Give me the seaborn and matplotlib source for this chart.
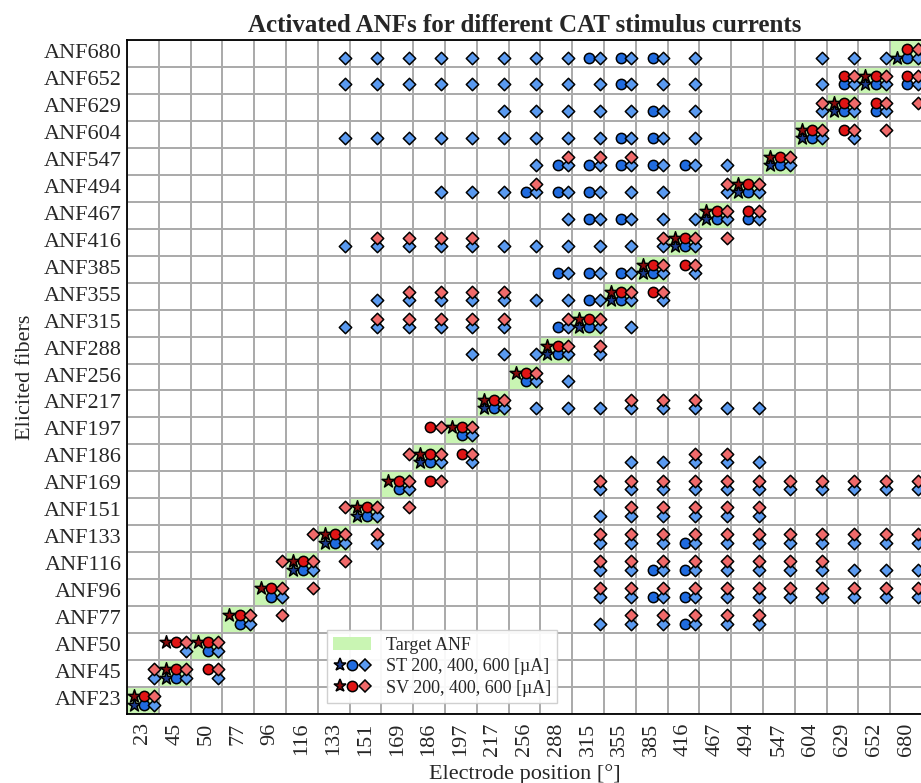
import numpy as np
import pandas as pd
import matplotlib
matplotlib.use("Agg")
import matplotlib.pyplot as plt
import seaborn as sns
from matplotlib.colors import ListedColormap
from matplotlib.lines import Line2D
from matplotlib.patches import Patch
from matplotlib.legend_handler import HandlerTuple

# ---------------- data ----------------
electrodes = [23, 45, 50, 77, 96, 116, 133, 151, 169, 186, 197, 217, 256,
              288, 315, 355, 385, 416, 467, 494, 547, 604, 629, 652, 680]
fibers = [680, 652, 629, 604, 547, 494, 467, 416, 385, 355, 315, 288, 256,
          217, 197, 186, 169, 151, 133, 116, 96, 77, 50, 45, 23]

# activated fibers: fiber -> electrode positions where the fiber fires
st_200 = {680: [680], 652: [652], 629: [629], 604: [604], 547: [547], 494: [494],
          467: [467], 416: [416], 385: [385], 355: [355], 315: [315], 288: [288],
          217: [217], 186: [186], 151: [151], 133: [133], 116: [116], 45: [45], 23: [23]}
st_400 = {680: [315, 355, 385, 680], 652: [355, 629, 652, 680], 629: [385, 629, 652],
          604: [355, 385, 604], 547: [288, 315, 355, 385, 416, 547],
          494: [256, 288, 315, 494], 467: [315, 355, 467, 494], 416: [416],
          385: [288, 315, 355, 385], 355: [315, 355], 315: [288, 315], 288: [288],
          256: [256], 217: [217], 197: [197], 186: [186], 169: [169], 151: [151],
          133: [133, 416], 116: [116, 385, 416], 96: [96, 385, 416], 77: [77, 416],
          50: [50], 45: [45], 23: [23]}
st_600 = {680: [133, 151, 169, 186, 197, 217, 256, 288, 315, 355, 385, 416, 604, 629, 652, 680],
          652: [133, 151, 169, 186, 197, 217, 256, 288, 315, 355, 385, 416, 604, 629, 652, 680],
          629: [217, 256, 288, 315, 355, 385, 416, 604, 629, 652],
          604: [133, 151, 169, 186, 197, 217, 256, 288, 315, 355, 385, 416, 604, 629],
          547: [256, 288, 315, 355, 385, 416, 467, 547],
          494: [186, 197, 217, 256, 288, 315, 355, 385, 467, 494],
          467: [288, 315, 355, 385, 416, 467, 494],
          416: [133, 151, 169, 186, 197, 217, 256, 288, 315, 355, 385, 416],
          385: [288, 315, 355, 385, 416],
          355: [151, 169, 186, 197, 217, 256, 288, 315, 355, 385],
          315: [133, 151, 169, 186, 197, 217, 288, 315, 355],
          288: [197, 217, 256, 288, 315],
          256: [256, 288],
          217: [217, 256, 288, 315, 355, 385, 416, 467, 494],
          197: [197],
          186: [186, 197, 355, 385, 416, 467, 494],
          169: [169, 315, 355, 385, 416, 467, 494, 547, 604, 629, 652, 680],
          151: [151, 315, 355, 385, 416, 467, 494],
          133: [133, 151, 315, 355, 385, 416, 467, 494, 547, 604, 629, 652, 680],
          116: [116, 315, 355, 385, 416, 467, 494, 547, 604, 629, 652, 680],
          96: [96, 315, 355, 385, 416, 467, 494, 547, 604, 629, 652, 680],
          77: [77, 315, 355, 385, 416, 467, 494],
          50: [45, 50], 45: [23, 45, 50], 23: [23]}
sv_200 = {652: [652], 629: [629], 604: [604], 547: [547], 494: [494], 467: [467],
          416: [416], 385: [385], 355: [355], 315: [315], 288: [288], 256: [256],
          217: [217], 197: [197], 186: [186], 169: [169], 151: [151], 133: [133],
          116: [116], 96: [96], 77: [77], 50: [45, 50], 45: [45], 23: [23]}
sv_400 = {680: [680], 652: [629, 652, 680], 629: [629, 652], 604: [604, 629],
          547: [547], 494: [494], 467: [467, 494], 416: [416], 385: [385, 416],
          355: [355, 385], 315: [315], 288: [288], 256: [256], 217: [217],
          197: [186, 197], 186: [186, 197], 169: [169, 186], 151: [151], 133: [133],
          116: [116], 96: [96], 77: [77], 50: [45, 50], 45: [45, 50], 23: [23]}
sv_600 = {680: [680], 652: [629, 652, 680], 629: [604, 629, 652, 680],
          604: [604, 629, 652], 547: [288, 315, 355, 547], 494: [256, 467, 494],
          467: [467, 494], 416: [151, 169, 186, 197, 385, 416, 467], 385: [385, 416],
          355: [169, 186, 197, 217, 355, 385], 315: [151, 169, 186, 197, 217, 288, 315],
          288: [288, 315], 256: [256], 217: [217, 355, 385, 416], 197: [186, 197],
          186: [169, 186, 197, 416, 467],
          169: [169, 186, 315, 355, 385, 416, 467, 494, 547, 604, 629, 652, 680],
          151: [133, 151, 169, 355, 385, 416, 467, 494],
          133: [116, 133, 151, 315, 355, 385, 416, 467, 494, 547, 604, 629, 652, 680],
          116: [96, 116, 133, 315, 355, 385, 416, 467, 494, 547, 604],
          96: [96, 116, 315, 355, 385, 416, 467, 494, 547, 604, 629, 652, 680],
          77: [77, 96, 355, 385, 416, 467, 494],
          50: [45, 50], 45: [23, 45, 50], 23: [23]}

# ---------------- styles ----------------
green = "#c9f5b3"
grid_col = "#ababab"
colors = {("ST", 200): "#1b3c8f", ("ST", 400): "#1f6be0", ("ST", 600): "#5a9af0",
          ("SV", 200): "#8a0b0b", ("SV", 400): "#e01414", ("SV", 600): "#f06a6a"}
markers = {200: "*", 400: "o", 600: "D"}
sizes = {200: 95, 400: 55, 600: 40}
dx = {200: -0.28, 400: 0.04, 600: 0.36}
dy = {"SV": -0.16, "ST": 0.15}

series = [("ST", 200, st_200), ("ST", 400, st_400), ("ST", 600, st_600),
          ("SV", 200, sv_200), ("SV", 400, sv_400), ("SV", 600, sv_600)]

rows = []
for cfg, cur, d in series:
    for f, es in d.items():
        for e in es:
            rows.append(dict(config=cfg, current=cur, fiber=f, electrode=e))
df = pd.DataFrame(rows)
xi = {e: i for i, e in enumerate(electrodes)}
yi = {f: j for j, f in enumerate(fibers)}
df["x"] = df["electrode"].map(xi) + 0.5 + df["current"].map(dx)
df["y"] = df["fiber"].map(yi) + 0.5 + df["config"].map(dy)

sns.set_theme(style="white")
plt.rcParams["font.family"] = ["Liberation Serif", "DejaVu Serif"]

fig = plt.figure(figsize=(9.21, 7.83), dpi=100)
ax = fig.add_axes([127 / 921, 69 / 783, 795 / 921, 674 / 783])

target = pd.DataFrame([[1 if f == e else 0 for e in electrodes] for f in fibers],
                      index=[f"ANF{f}" for f in fibers],
                      columns=[str(e) for e in electrodes])
sns.heatmap(target, cmap=ListedColormap(["white", green]), vmin=0, vmax=1,
            cbar=False, linewidths=1.3, linecolor=grid_col, ax=ax)

for cfg, cur, _ in series:
    sub = df[(df["config"] == cfg) & (df["current"] == cur)]
    sns.scatterplot(data=sub, x="x", y="y", marker=markers[cur], color=colors[(cfg, cur)],
                    s=sizes[cur], edgecolor="black", linewidth=1.1, ax=ax,
                    legend=False, zorder=3, clip_on=False)

ax.set_xlim(0, len(electrodes))
ax.set_ylim(len(fibers), 0)
ax.set_xticks(np.arange(len(electrodes)) + 0.5)
ax.set_xticklabels([str(e) for e in electrodes], rotation=90)
ax.set_yticks(np.arange(len(fibers)) + 0.5)
ax.set_yticklabels([f"ANF{f}" for f in fibers], rotation=0)
ax.tick_params(axis="both", length=0, labelsize=16)
ax.tick_params(axis="x", pad=6)
ax.tick_params(axis="y", pad=4)
for sp in ax.spines.values():
    sp.set_visible(True)
    sp.set_color("black")
    sp.set_linewidth(1.3)

ax.set_title("Activated ANFs for different CAT stimulus currents",
             fontsize=18, fontweight="bold", pad=6)
ax.set_xlabel("Electrode position [°]", fontsize=16, labelpad=6)
ax.set_ylabel("Elicited fibers", fontsize=16, labelpad=6)

def mk(cfg, cur):
    return Line2D([], [], ls="", marker=markers[cur], markersize=np.sqrt(sizes[cur]),
                  markerfacecolor=colors[(cfg, cur)], markeredgecolor="black",
                  markeredgewidth=1.1)

handles = [Patch(facecolor=green, edgecolor="none"),
           (mk("ST", 200), mk("ST", 400), mk("ST", 600)),
           (mk("SV", 200), mk("SV", 400), mk("SV", 600))]
labels = ["Target ANF", "ST 200, 400, 600 [µA]", "SV 200, 400, 600 [µA]"]
leg = ax.legend(handles, labels, handler_map={tuple: HandlerTuple(ndivide=None, pad=0.0)},
                loc="lower left", bbox_to_anchor=(0.2516, 0.0163), fontsize=13,
                frameon=True, fancybox=False, framealpha=0.92, edgecolor="#cccccc",
                labelspacing=0.25, borderpad=0.35, handletextpad=0.8,
                borderaxespad=0.0, handlelength=2.1)
leg.set_zorder(5)

fig.savefig("out.png", dpi=100)
